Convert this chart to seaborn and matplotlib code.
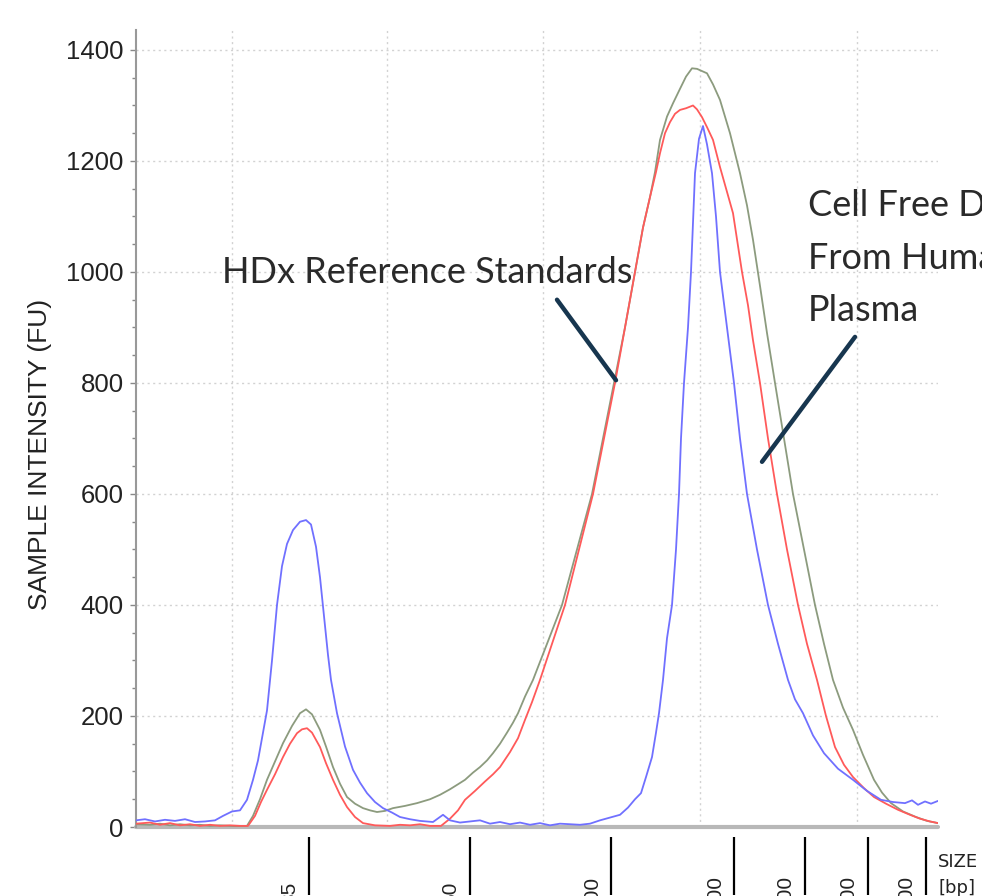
import numpy as np
import pandas as pd
import matplotlib
matplotlib.use("Agg")
import matplotlib.pyplot as plt
import seaborn as sns
from matplotlib.transforms import ScaledTranslation
from matplotlib.ticker import MultipleLocator

# ---------------- data (migration position vs. intensity, FU) ----------------
blue_pos = [0, 9, 19, 29, 39, 49, 59, 69, 79, 87, 96, 104, 111, 117, 122, 126, 131, 136, 141, 146,
            151, 157, 164, 170, 175, 180, 184, 188, 192, 195, 201, 209, 217, 224, 231, 239, 247, 256,
            264, 274, 284, 297, 307, 314, 324, 334, 344, 354, 364, 374, 384, 394, 404, 414, 424, 434,
            444, 454, 464, 476, 484, 492, 499, 505, 510, 516, 520, 523, 527, 531, 536, 540, 543, 545,
            548, 552, 555, 559, 563, 567, 571, 576, 580, 584, 591, 598, 604, 611, 621, 632, 642, 652,
            659, 667, 677, 688, 702, 717, 731, 745, 757, 769, 776, 782, 789, 795, 802]
blue_fu = [12, 14, 10, 13, 11, 14, 9, 10, 12, 20, 28, 30, 49, 85, 120, 160, 210, 300, 400, 470,
           510, 535, 550, 553, 545, 505, 450, 380, 310, 265, 205, 145, 103, 80, 61, 45, 34, 26,
           18, 14, 11, 9, 22, 12, 8, 10, 12, 6, 9, 5, 8, 4, 7, 3, 6, 5,
           4, 6, 12, 18, 22, 35, 50, 61, 90, 126, 170, 205, 265, 340, 400, 500, 600, 700,
           800, 900, 1000, 1178, 1240, 1263, 1230, 1178, 1100, 1000, 900, 800, 700, 600, 500, 400, 330, 265,
           230, 205, 165, 133, 105, 85, 65, 49, 45, 43, 48, 40, 46, 42, 47]

red_pos = [0, 14, 24, 34, 44, 54, 64, 74, 84, 94, 104, 112, 119, 125, 131, 139, 147, 154, 161, 166,
           171, 176, 184, 190, 197, 204, 211, 219, 227, 239, 254, 264, 274, 284, 294, 305, 314, 322,
           329, 339, 349, 357, 364, 374, 382, 389, 396, 404, 416, 429, 443, 457, 468, 479, 489, 499,
           507, 514, 520, 524, 529, 534, 539, 544, 550, 557, 561, 566, 571, 577, 584, 597, 606, 612,
           617, 624, 632, 641, 651, 662, 671, 681, 690, 699, 708, 717, 728, 738, 750, 762, 774, 784,
           794, 802]
red_fu = [6, 8, 4, 7, 3, 5, 2, 4, 2, 3, 2, 2, 20, 45, 67, 95, 126, 150, 169, 176,
          178, 170, 144, 115, 85, 58, 36, 18, 7, 3, 2, 4, 3, 5, 2, 2, 15, 30,
          49, 65, 82, 95, 108, 135, 160, 193, 225, 265, 330, 400, 500, 600, 700, 800, 900, 1000,
          1080, 1135, 1180, 1214, 1250, 1270, 1285, 1292, 1295, 1300, 1293, 1279, 1261, 1238, 1189, 1106, 1000, 940,
          877, 800, 700, 600, 500, 400, 330, 265, 200, 144, 112, 90, 70, 54, 42, 31, 22, 15,
          10, 7]

green_pos = [0, 14, 24, 34, 44, 54, 64, 74, 84, 94, 104, 111, 117, 124, 131, 139, 147, 156, 164, 170,
             176, 184, 190, 197, 204, 211, 219, 227, 234, 241, 249, 257, 269, 281, 294, 304, 314, 322,
             329, 337, 344, 351, 357, 364, 371, 377, 382, 389, 397, 411, 426, 441, 456, 467, 478, 489,
             499, 507, 514, 519, 524, 531, 537, 544, 550, 556, 561, 566, 571, 577, 584, 594, 604, 611,
             617, 624, 631, 639, 648, 657, 668, 679, 688, 697, 707, 717, 727, 738, 746, 755, 767, 780,
             791, 802]
green_fu = [5, 4, 6, 3, 5, 3, 4, 2, 3, 2, 1, 2, 20, 50, 85, 118, 151, 182, 205, 212,
            203, 175, 145, 108, 78, 54, 42, 34, 30, 27, 29, 34, 38, 43, 50, 58, 68, 77,
            85, 98, 108, 120, 133, 150, 170, 188, 205, 235, 265, 330, 400, 500, 600, 700, 800, 900,
            1000, 1080, 1135, 1180, 1238, 1280, 1304, 1330, 1352, 1367, 1366, 1362, 1358, 1338, 1310, 1250, 1178, 1120,
            1058, 975, 890, 800, 700, 600, 500, 400, 330, 265, 215, 175, 130, 85, 62, 43, 28, 18,
            11, 7]

ladder_pos = [173, 334, 475, 598, 669, 732, 790]
ladder_labels = ["35", "50", "100", "200", "300", "400", "500"]
grid_pos = [96, 251, 407, 564, 721]

series_names = ["Cell free DNA B", "Cell free DNA A", "HDx Reference Standard"]
series_colors = ["#8c9b7e", "#ff5a5a", "#7070ff"]

# ---------------- figure ----------------
sns.set_theme(style="white")
plt.rcParams["font.family"] = ["Liberation Sans", "DejaVu Sans"]

fig = plt.figure(figsize=(9.82, 8.96), dpi=100)
ax = fig.add_axes([136 / 982, 1 - 827 / 896, (938 - 136) / 982, (827 - 30) / 896])

df = pd.concat([
    pd.DataFrame({"pos": green_pos, "fu": green_fu, "sample": series_names[0]}),
    pd.DataFrame({"pos": red_pos, "fu": red_fu, "sample": series_names[1]}),
    pd.DataFrame({"pos": blue_pos, "fu": blue_fu, "sample": series_names[2]}),
], ignore_index=True)

sns.lineplot(data=df, x="pos", y="fu", hue="sample", hue_order=series_names,
             palette=series_colors, estimator=None, sort=False, legend=False,
             linewidth=1.3, ax=ax, zorder=3)

ax.set_xlim(0, 802)
ax.set_ylim(0, 1436)

# baseline
ax.axhline(0, color="#b8b8b8", lw=3, zorder=2, clip_on=False)

# grids
grid_style = dict(color="#d2d2d2", linestyle=(0, (1.5, 2.5)), linewidth=1.0)
ax.yaxis.set_major_locator(MultipleLocator(200))
ax.yaxis.set_minor_locator(MultipleLocator(50))
ax.set_xticks(grid_pos, minor=True)
ax.grid(axis="y", which="major", **grid_style)
ax.grid(axis="x", which="minor", **grid_style)
ax.set_axisbelow(True)

# spines
for s in ["top", "right"]:
    ax.spines[s].set_visible(False)
ax.spines["left"].set_color("#999999")
ax.spines["left"].set_linewidth(1.5)
ax.spines["bottom"].set_position(("outward", 7.5))
ax.spines["bottom"].set_visible(False)

# y ticks
ax.tick_params(axis="y", which="major", length=4, width=1, color="#888888", pad=5,
               labelsize=18.5, labelcolor="#222222", left=True)
ax.tick_params(axis="y", which="minor", length=3, width=1, color="#888888", left=True)

# x ticks (size ladder)
ax.set_xticks(ladder_pos, ladder_labels)
ax.tick_params(axis="x", which="major", length=42, width=1.6, color="black",
               direction="out", bottom=True, pad=-1.5, labelsize=15, labelcolor="#222222")
ax.tick_params(axis="x", which="minor", length=0)
offset = ScaledTranslation(-19 / 100, 0, fig.dpi_scale_trans)
for lab in ax.get_xticklabels():
    lab.set_rotation(90)
    lab.set_va("center")
    lab.set_ha("center")
    lab.set_transform(lab.get_transform() + offset)

ax.set_xlabel("")
ax.set_ylabel("SAMPLE INTENSITY (FU)", fontsize=19, color="#222222")
ax.yaxis.label.set_va("center")
ax.yaxis.set_label_coords((40 - 136) / 802, (827 - 454) / 797)

fig.text(938 / 982, 1 - 853 / 896, "SIZE\n[bp]", fontsize=13, color="#222222",
         family=["DejaVu Sans"], ha="left", va="top", linespacing=1.6)

# annotations
ann_font = ["Lato", "DejaVu Sans"]
ax.text(86, 980, "HDx Reference Standards", fontsize=26, color="#2a2a2a",
        family=ann_font, ha="left", va="baseline", clip_on=False)
for txt, yb in zip(["Cell Free DNA", "From Human", "Plasma"], [1101, 1005, 912]):
    ax.text(672, yb, txt, fontsize=26, color="#2a2a2a", family=ann_font,
            ha="left", va="baseline", clip_on=False)

line_kw = dict(arrowprops=dict(arrowstyle="-", color="#17364f", lw=3.2,
                               shrinkA=0, shrinkB=0))
ax.annotate("", xy=(480, 805), xytext=(421, 950), **line_kw)
ax.annotate("", xy=(626, 658), xytext=(719, 883), **line_kw)

fig.savefig("out.png", dpi=100)
